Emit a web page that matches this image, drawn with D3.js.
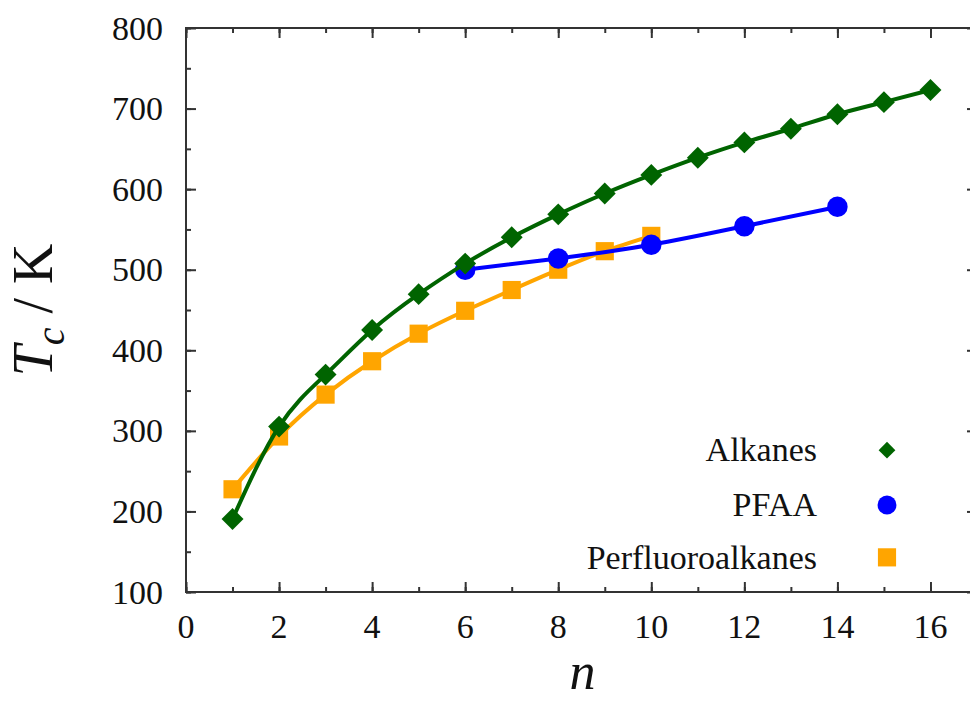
<!DOCTYPE html>
<html lang="en">
<head>
<meta charset="UTF-8">
<title>Critical temperature vs n</title>
<style>
    body { margin: 0; background: #fff; }
    svg text { font-family: "Liberation Serif", "DejaVu Serif", serif; fill: #111; }
    .line { fill: none; stroke-width: 4px; }
</style>
</head>
<body>
<div id="chart"></div>
<script src="https://d3js.org/d3.v7.min.js"></script>
<script>
    // values
    const alkaneN = [1, 2, 3, 4, 5, 6, 7, 8, 9, 10, 11, 12, 13, 14, 15, 16];
    const alkaneTc = [190.6, 305.3, 369.8, 425.1, 469.7, 507.6, 540.2, 568.7, 594.6, 617.7, 639, 658, 675, 693, 708, 723];
    const pfaaN = [6, 8, 10, 12, 14];
    const pfaaTc = [500, 514, 531, 554, 578];
    const perfluoroN = [1, 2, 3, 4, 5, 6, 7, 8, 9, 10];
    const perfluoroTc = [227.5, 293, 345, 386.4, 420.6, 449, 474.8, 500, 523, 542];
    const seriesNames = ["Alkanes", "PFAA", "Perfluoroalkanes"];
    const xTicks = [0, 2, 4, 6, 8, 10, 12, 14, 16];
    const yTicks = [100, 200, 300, 400, 500, 600, 700, 800];

    const W = 970, H = 702;
    const margin = { top: 28, right: -7, bottom: 110, left: 186 };
    const width = W - margin.left - margin.right,
          height = H - margin.top - margin.bottom;

    const svg = d3.select("#chart").append("svg")
        .attr("width", W)
        .attr("height", H);
    const g = svg.append("g")
        .attr("transform", "translate(" + margin.left + "," + margin.top + ")");

    const x = d3.scaleLinear().domain([0, 17]).range([0, width]);
    const y = d3.scaleLinear().domain([100, 800]).range([height, 0]);

    // frame
    g.append("rect")
        .attr("width", width).attr("height", height)
        .attr("fill", "none").attr("stroke", "#333").attr("stroke-width", 2);

    const minorX = d3.range(0, 18, 1);
    const minorY = d3.range(100, 801, 50);

    function tickAxis(axis, vals, len) {
        return axis.tickValues(vals).tickSize(len).tickFormat("");
    }

    // inward ticks on all four sides
    const axStyle = sel => {
        sel.select(".domain").remove();
        sel.selectAll("line").attr("stroke", "#333").attr("stroke-width", 2);
    };
    g.append("g").attr("transform", `translate(0,${height})`)
        .call(tickAxis(d3.axisTop(x), minorX, 5)).call(axStyle);
    g.append("g").attr("transform", `translate(0,${height})`)
        .call(tickAxis(d3.axisTop(x), xTicks, 10)).call(axStyle);
    g.append("g").call(tickAxis(d3.axisBottom(x), minorX, 5)).call(axStyle);
    g.append("g").call(tickAxis(d3.axisBottom(x), xTicks, 10)).call(axStyle);
    g.append("g").call(tickAxis(d3.axisRight(y), minorY, 5)).call(axStyle);
    g.append("g").call(tickAxis(d3.axisRight(y), yTicks, 10)).call(axStyle);
    g.append("g").attr("transform", `translate(${width},0)`)
        .call(tickAxis(d3.axisLeft(y), minorY, 5)).call(axStyle);
    g.append("g").attr("transform", `translate(${width},0)`)
        .call(tickAxis(d3.axisLeft(y), yTicks, 10)).call(axStyle);

    // tick labels
    g.selectAll(".xlab").data(xTicks).enter().append("text")
        .attr("x", d => x(d)).attr("y", height + 46)
        .attr("text-anchor", "middle")
        .style("font-size", "34px")
        .text(d => d);
    g.selectAll(".ylab").data(yTicks).enter().append("text")
        .attr("x", -23).attr("y", d => y(d)).attr("dy", "0.34em")
        .attr("text-anchor", "end")
        .style("font-size", "34px")
        .text(d => d);

    // axis titles
    g.append("text")
        .attr("x", width / 2 + 1).attr("y", height + 97)
        .attr("text-anchor", "middle")
        .style("font-size", "52px").style("font-style", "italic")
        .text("n");
    const yt = g.append("text")
        .attr("transform", `translate(${-134},${height / 2}) rotate(-90)`)
        .attr("text-anchor", "middle")
        .style("font-size", "56px");
    yt.append("tspan").style("font-style", "italic").text("T");
    yt.append("tspan").style("font-style", "italic").style("font-size", "40px")
        .attr("dy", 12).text("c");
    yt.append("tspan").attr("dy", -12).text(" / K");

    // diamond = square turned 45 degrees
    const series = [
        { name: seriesNames[0], n: alkaneN, tc: alkaneTc, color: "#006400", shape: d3.symbolSquare, rot: 45, size: 240, legSize: 140 },
        { name: seriesNames[1], n: pfaaN, tc: pfaaTc, color: "#0000ff", shape: d3.symbolCircle, rot: 0, size: 330, legSize: 280 },
        { name: seriesNames[2], n: perfluoroN, tc: perfluoroTc, color: "#ffa500", shape: d3.symbolSquare, rot: 0, size: 330, legSize: 330 }
    ];

    const line = d3.line().x(d => x(d[0])).y(d => y(d[1])).curve(d3.curveNatural);

    const plot = g.append("g");
    // draw alkanes last so it sits on top like the original
    [series[2], series[1], series[0]].forEach(s => {
        const pts = s.n.map((v, i) => [v, s.tc[i]]);
        plot.append("path").datum(pts)
            .attr("class", "line")
            .attr("stroke", s.color)
            .attr("d", line);
        plot.selectAll(null).data(pts).enter().append("path")
            .attr("transform", d => `translate(${x(d[0])},${y(d[1])}) rotate(${s.rot})`)
            .attr("d", d3.symbol().type(s.shape).size(s.size))
            .attr("fill", s.color);
    });

    // legend, rows placed at these Tc levels
    const legTc = [276, 208, 143];
    series.forEach((s, i) => {
        g.append("text")
            .attr("x", 631).attr("y", y(legTc[i])).attr("dy", "0.33em")
            .attr("text-anchor", "end")
            .style("font-size", "34px")
            .text(s.name);
        g.append("path")
            .attr("transform", `translate(${701},${y(legTc[i])}) rotate(${s.rot})`)
            .attr("d", d3.symbol().type(s.shape).size(s.legSize))
            .attr("fill", s.color);
    });
</script>
</body>
</html>
